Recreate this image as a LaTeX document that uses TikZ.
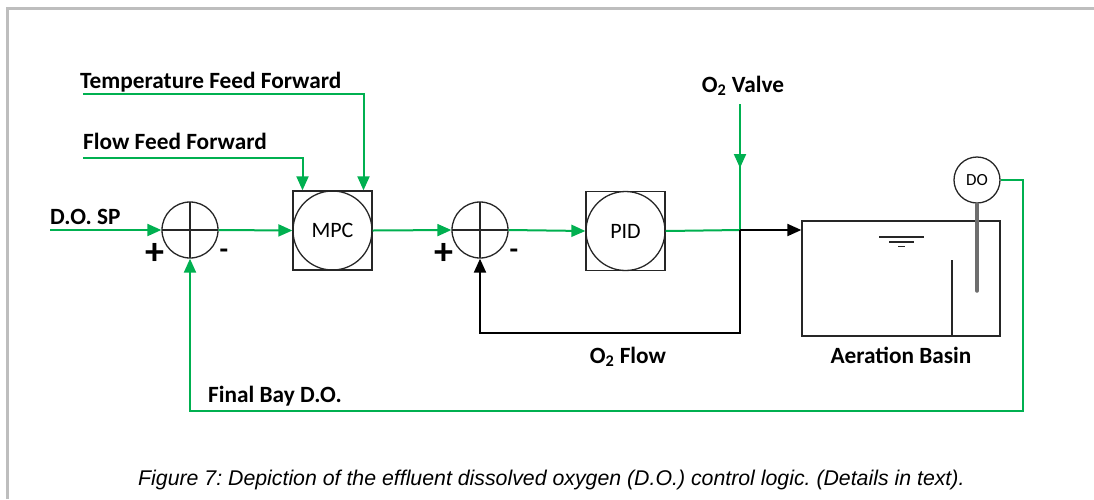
\documentclass[tikz,border=0pt]{standalone}
\usepackage{fontspec}
\setmainfont{Carlito}
\newfontfamily\capfont{Liberation Sans}
\usetikzlibrary{arrows.meta}
\definecolor{grn}{RGB}{0,176,80}
\definecolor{frame}{RGB}{190,190,190}
\definecolor{probe}{RGB}{110,110,110}
\begin{document}
\frenchspacing
\begin{tikzpicture}[x=1pt,y=-1pt,
  blk/.style={draw=black!85,line width=1.3pt},
  sumnode/.style={circle,blk,minimum size=56pt,inner sep=0pt,
    path picture={\draw[black!85,line width=1.3pt]
      (path picture bounding box.north) -- (path picture bounding box.south)
      (path picture bounding box.west) -- (path picture bounding box.east);}},
  ctrl/.style={rectangle,blk,minimum size=79pt,inner sep=0pt,font=\fontsize{22}{24}\selectfont},
  gline/.style={draw=grn,line width=2pt},
  garr/.style={gline,-{Triangle[length=14pt,width=12pt]}},
  barr/.style={draw=black,line width=2pt,-{Triangle[length=14pt,width=12pt]}},
  lbl/.style={font=\fontsize{23.3}{26}\selectfont\bfseries,inner sep=0pt},
  plussgn/.style={font=\fontsize{38}{40}\selectfont\bfseries,inner sep=0pt},
  minussgn/.style={font=\fontsize{28}{30}\selectfont\bfseries,inner sep=0pt},
  captxt/.style={font=\capfont\itshape\fontsize{21.3}{24}\selectfont,inner sep=0pt}
]
\useasboundingbox (0,0) rectangle (1094,499);
% frame
\draw[frame,line width=3pt] (7,499) -- (7,8) -- (1094,8);

% blocks
\node[sumnode] (sum1) at (190,230) {};
\node[ctrl] (mpc) at (332.5,230.5) {MPC};
\draw[blk] (mpc.center) circle[radius=39.5pt];
\node[sumnode] (sum2) at (480,230) {};
\node[ctrl] (pid) at (625.5,231) {PID};
\draw[blk] (pid.center) circle[radius=39.5pt];
\node[rectangle,blk,minimum width=198pt,minimum height=115pt,inner sep=0pt] (basin) at (901,278.5) {};
\node[circle,blk,minimum size=46pt,inner sep=0pt,font=\fontsize{17}{18}\selectfont] (do) at (977,180) {DO};

% basin details
\draw[blk,line width=1.6pt] (879,237) -- (924,237);
\draw[blk,line width=1.6pt] (889,242) -- (914,242);
\draw[blk,line width=1.6pt] (898,246.5) -- (905,246.5);
\draw[blk] (952,260) -- (952,336);
\draw[probe,line width=3.5pt,line cap=round] (do.south) -- (977,291);

% coordinates
\coordinate (sp) at (50,230);
\coordinate (tff) at (83,94);
\coordinate (fff) at (83,158);
\coordinate (j) at (740,230);
\coordinate (vtop) at (740,104);
\coordinate (vmid) at (740,168);
\coordinate (fb) at (740,333);
\coordinate (dor) at (1023,411);

% connectors
\draw[garr] (sp) -- (sum1.west);
\draw[garr] (sum1.east) -- (mpc.west);
\draw[garr] (tff) -| ([xshift=31pt]mpc.north);
\draw[garr] (fff) -| ([xshift=-30pt]mpc.north);
\draw[garr] (mpc.east) -- (sum2.west);
\draw[garr] (sum2.east) -- (pid.west);
\draw[gline] (pid.east) -- (j);
\draw[gline] (vtop) -- (j);
\draw[garr] (vtop) -- (vmid);
\draw[barr] (j) -- (j -| basin.west);
\draw[barr] (j) -- (fb) -| (sum2.south);
\draw[garr] (do.east) -| (dor) -| (sum1.south);

% labels
\node[lbl,anchor=base west] (lsp) at (50,224) {D.O. SP};
\node[lbl,anchor=base west] (ltff) at (80,88) {Temperature Feed Forward};
\node[lbl,anchor=base west] (lfff) at (83,149) {Flow Feed Forward};
\node[lbl,anchor=base] (lval) at (743,92) {O\textsubscript{2} Valve};
\node[lbl,anchor=base] (lflow) at (628,363) {O\textsubscript{2} Flow};
\node[lbl,anchor=base] (lbas) at (901,363) {Aeration Basin};
\node[lbl,anchor=base west] (lfin) at (208,402) {Final Bay D.O.};
\node[plussgn] (p1) at (155,253.5) {+};
\node[minussgn] (m1) at (224,254) {-};
\node[plussgn] (p2) at (444,254) {+};
\node[minussgn] (m2) at (514,254) {-};
\node[captxt,anchor=base west] (caption) at (138,485) {Figure 7: Depiction of the effluent dissolved oxygen (D.O.) control logic. (Details in text).};
\end{tikzpicture}
\end{document}
